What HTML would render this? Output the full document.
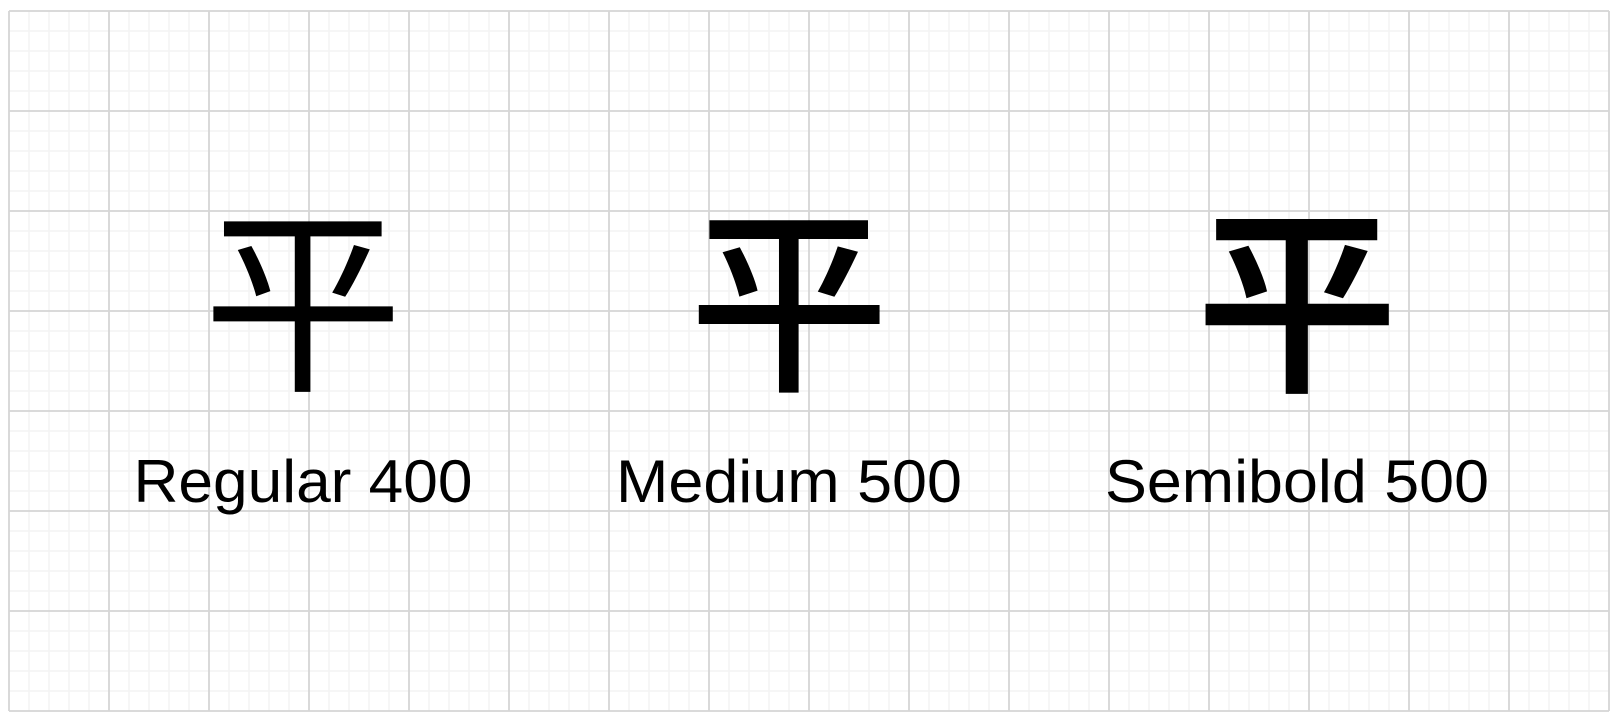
<!DOCTYPE html>
<html><head><meta charset="utf-8">
<style>
html,body{margin:0;padding:0;background:#fff;}
svg{display:block;}
</style></head>
<body>
<svg id="chart" width="1620" height="724" viewBox="0 0 1620 724" xmlns="http://www.w3.org/2000/svg">
<rect width="1620" height="724" fill="#fff"/>
<g id="minor"></g>
<g id="major"></g>
<g id="samples"></g>
</svg>
<script>
const labels = ["Regular 400", "Medium 500", "Semibold 500"];
const weights = [400, 500, 500];
const strokes = [0, 0, 2.5];
const labelWidths = [339, 346, 384];
const glyph = "平";
const NS = "http://www.w3.org/2000/svg";
const x0 = 9, y0 = 11, W = 1600, H = 700;
const minor = document.getElementById('minor');
const major = document.getElementById('major');
function line(g, x1, y1, x2, y2, c, w) {
  const l = document.createElementNS(NS, 'line');
  l.setAttribute('x1', x1); l.setAttribute('y1', y1);
  l.setAttribute('x2', x2); l.setAttribute('y2', y2);
  l.setAttribute('stroke', c); l.setAttribute('stroke-width', w);
  
  
  g.appendChild(l);
}
for (let x = 0; x <= W; x += 20) {
  if (x % 100) line(minor, x0 + x, y0, x0 + x, y0 + H, '#f3f3f3', 1.5);
}
for (let y = 0; y <= H; y += 20) {
  if (y % 100) line(minor, x0, y0 + y, x0 + W, y0 + y, '#f3f3f3', 1.5);
}
for (let x = 0; x <= W; x += 100) line(major, x0 + x, y0, x0 + x, y0 + H, '#d5d5d5', 1.8);
for (let y = 0; y <= H; y += 100) line(major, x0, y0 + y, x0 + W, y0 + y, '#d5d5d5', 1.8);

const centers = [303, 789, 1297];
const samples = document.getElementById('samples');
labels.forEach((lab, i) => {
  const g = document.createElementNS(NS, 'text');
  g.setAttribute('x', centers[i]); g.setAttribute('y', 376);
  g.setAttribute('text-anchor', 'middle');
  g.setAttribute('font-size', '200');
  g.setAttribute('font-weight', weights[i]);
  if (strokes[i]) { g.setAttribute('stroke', '#000'); g.setAttribute('stroke-width', strokes[i]); }
  g.setAttribute('font-family', '"Noto Sans CJK SC", "Noto Sans CJK JP", sans-serif');
  g.textContent = glyph;
  
  
  samples.appendChild(g);
  const t = document.createElementNS(NS, 'text');
  t.setAttribute('x', centers[i] - labelWidths[i] / 2); t.setAttribute('y', 502);
  t.setAttribute('font-size', '60');
  t.setAttribute('textLength', labelWidths[i]);
  t.setAttribute('lengthAdjust', 'spacingAndGlyphs');
  t.setAttribute('font-family', '"Liberation Sans", sans-serif');
  t.textContent = lab;
  
  
  samples.appendChild(t);
});
</script>
</body></html>
